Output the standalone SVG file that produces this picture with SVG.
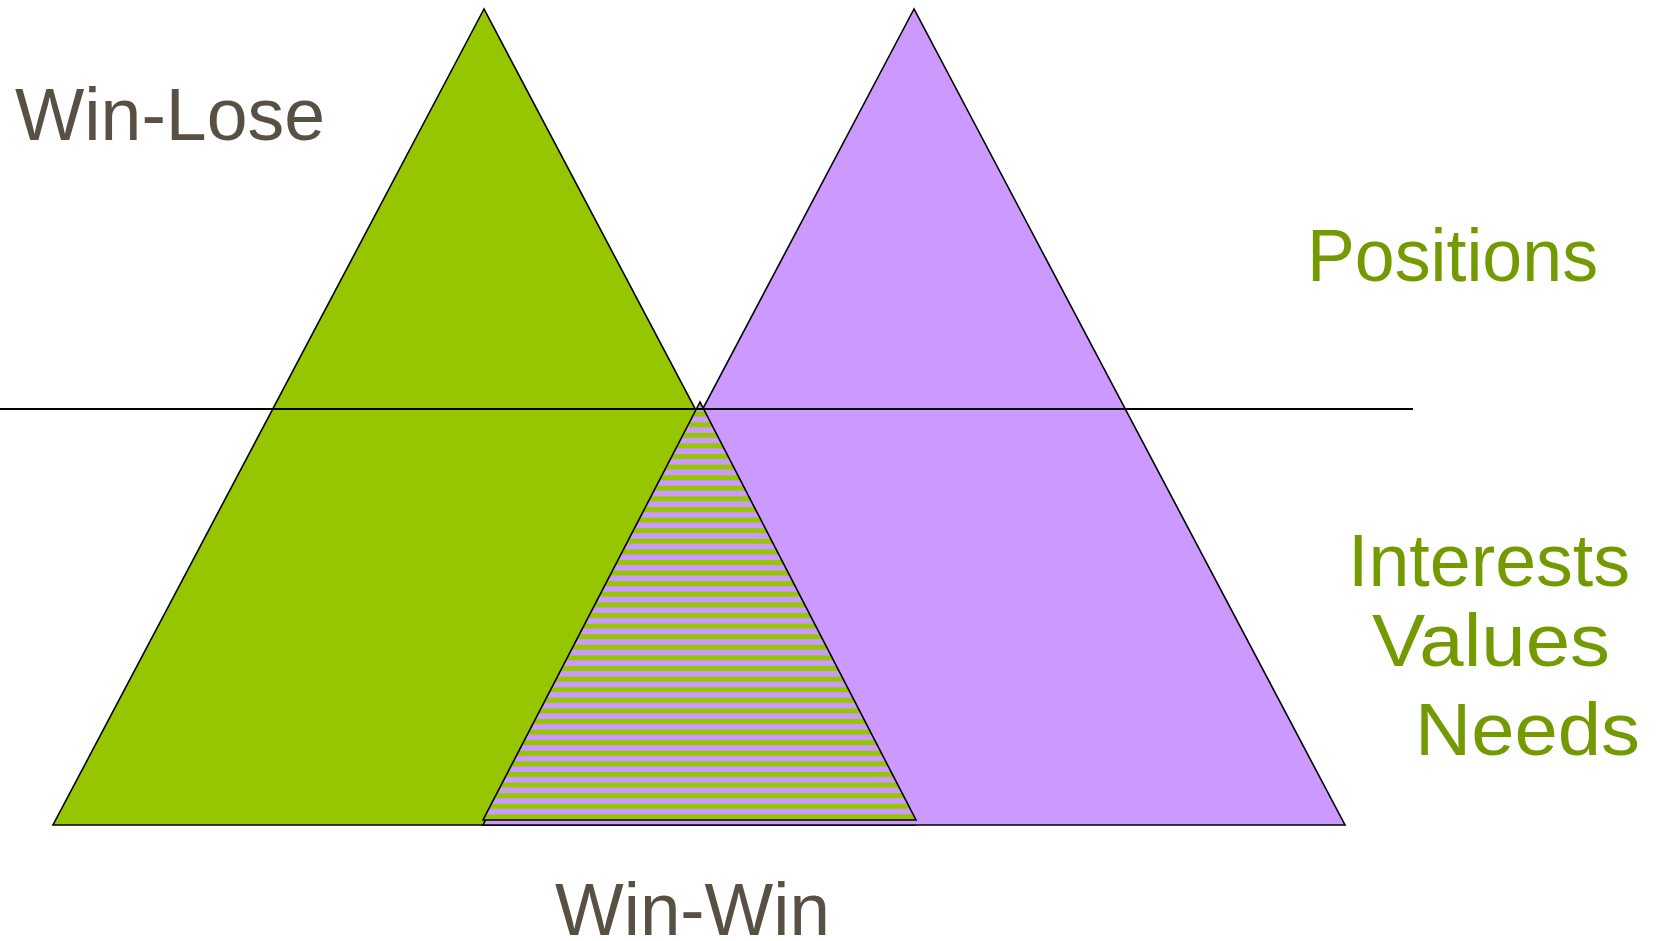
<svg xmlns="http://www.w3.org/2000/svg" width="1661" height="941" viewBox="0 0 1661 941">
<style>
.tri{stroke:#000;stroke-width:1.6;stroke-linejoin:miter}
.gray{fill:#575043;font-family:"Liberation Sans",Arial,sans-serif;font-size:74px}
.grn{fill:#739A00;font-family:"Liberation Sans",Arial,sans-serif;font-size:74px}
</style>
<defs>
<pattern id="hatch" patternUnits="userSpaceOnUse" x="0" y="401" width="20" height="10.6">
<rect x="0" y="0" width="20" height="10.6" fill="#CC99FF"/>
<rect x="0" y="0" width="20" height="5" fill="#96C600"/>
</pattern>
</defs>
<g id="green-triangle">
<polygon class="tri" points="484,9 53,825 915,825" fill="#96C600"/>
</g>
<g id="purple-triangle">
<polygon class="tri" points="914,9 483,825 1345,825" fill="#CC99FF"/>
</g>
<g id="overlap">
<polygon class="tri" points="700,402 483,820 916,820" fill="url(#hatch)"/>
</g>
<g id="connectors">
<line x1="0" y1="409" x2="1413" y2="409" stroke="#000" stroke-width="2"/>
</g>
<g id="labels">
<text class="gray" x="15" y="140" textLength="310" lengthAdjust="spacingAndGlyphs">Win-Lose</text>
<text class="grn" x="1307" y="281" textLength="291" lengthAdjust="spacingAndGlyphs">Positions</text>
<text class="grn" x="1348" y="586" textLength="282" lengthAdjust="spacingAndGlyphs">Interests</text>
<text class="grn" x="1372" y="666" textLength="238" lengthAdjust="spacingAndGlyphs">Values</text>
<text class="grn" x="1415" y="755" textLength="225" lengthAdjust="spacingAndGlyphs">Needs</text>
<text class="gray" x="555" y="935" textLength="275" lengthAdjust="spacingAndGlyphs">Win-Win</text>
</g>
</svg>
